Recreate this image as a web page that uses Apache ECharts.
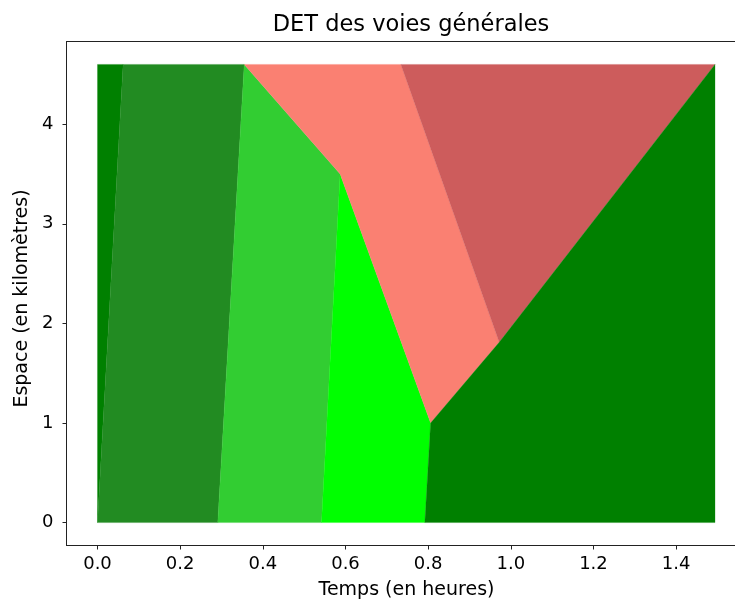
<!DOCTYPE html>
<html>
<head>
<meta charset="utf-8">
<title>DET des voies générales</title>
<script src="https://cdn.jsdelivr.net/npm/echarts@6/dist/echarts.min.js"></script>
<style>
  html, body { margin: 0; padding: 0; background: #fff; overflow: hidden; }
  #chart { width: 735px; height: 605px; }
</style>
</head>
<body>
<div id="chart"></div>
<script>
// Time-space regions: each vertex is [time (h), space (km)]
const zoneStart      = [[0, 0], [0, 4.6], [0.062, 4.6]];
const zoneFlowA      = [[0, 0], [0.062, 4.6], [0.355, 4.6], [0.291, 0]];
const zoneFlowB      = [[0.291, 0], [0.355, 4.6], [0.587, 3.5], [0.542, 0]];
const zoneFlowC      = [[0.542, 0], [0.587, 3.5], [0.806, 1.0], [0.792, 0]];
const zoneCongestion = [[0.355, 4.6], [0.734, 4.6], [0.972, 1.81], [0.806, 1.0], [0.587, 3.5]];
const zoneJam        = [[0.734, 4.6], [1.494, 4.6], [0.972, 1.81]];
const zoneRecovery   = [[0.792, 0], [0.806, 1.0], [0.972, 1.81], [1.494, 4.6], [1.494, 0]];

const zones = [zoneStart, zoneFlowA, zoneFlowB, zoneFlowC, zoneCongestion, zoneJam, zoneRecovery];
const zoneColors = ['#008000', '#228B22', '#32CD32', '#00FF00', '#FA8072', '#CD5C5C', '#008000'];

const xTicks = [0, 0.2, 0.4, 0.6, 0.8, 1.0, 1.2, 1.4];
const yTicks = [0, 1, 2, 3, 4];

// visible time window (the frame's right side runs past the page edge)
const xMin = -0.075;
const xMax = 1.5436;

const font = 'DejaVu Sans';
const spine = { show: true, onZero: false, lineStyle: { color: '#222', width: 1 } };

const chart = echarts.init(document.getElementById('chart'), null, { renderer: 'canvas' });

const series = zones.map((pts, i) => ({
  type: 'custom',
  data: pts,
  encode: { x: 0, y: 1 },
  silent: true,
  renderItem: (params, api) => {
    if (params.dataIndex !== 0) return null;
    const points = pts.map(p => api.coord(p));
    return {
      type: 'polygon',
      shape: { points },
      style: { fill: zoneColors[i], stroke: zoneColors[i], lineWidth: 0.3 }
    };
  }
}));

chart.setOption({
  animation: false,
  backgroundColor: '#fff',
  title: {
    text: 'DET des voies générales',
    left: 406,
    textAlign: 'center',
    top: 9,
    textStyle: { fontFamily: font, fontSize: 22.5, fontWeight: 'normal', color: '#000' }
  },
  grid: {
    left: 66.5, top: 41.5, width: 669, height: 504,
    outerBoundsMode: 'none',
    containLabel: false,
    show: false
  },
  xAxis: [{
    type: 'value',
    min: xMin, max: xMax,
    name: 'Temps (en heures)',
    nameLocation: 'middle',
    nameGap: 35,
    nameTextStyle: { fontFamily: font, fontSize: 19, color: '#000', padding: [0, 0, 0, 11] },
    splitLine: { show: false },
    axisLine: spine,
    axisTick: { show: true, length: 4, customValues: xTicks, lineStyle: { color: '#222' } },
    axisLabel: {
      customValues: xTicks,
      margin: 10,
      fontFamily: font, fontSize: 18, color: '#000',
      formatter: v => v.toFixed(1)
    }
  }, {
    // top frame line
    type: 'value',
    position: 'top',
    min: xMin, max: xMax,
    splitLine: { show: false },
    axisLine: spine,
    axisTick: { show: false },
    axisLabel: { show: false }
  }],
  yAxis: {
    type: 'value',
    min: -0.23, max: 4.83,
    name: 'Espace (en kilomètres)',
    nameLocation: 'middle',
    nameGap: 34,
    nameTextStyle: { fontFamily: font, fontSize: 19, color: '#000', padding: [0, 10, 0, 0] },
    splitLine: { show: false },
    axisLine: spine,
    axisTick: { show: true, length: 4, customValues: yTicks, lineStyle: { color: '#222' } },
    axisLabel: {
      customValues: yTicks,
      margin: 13,
      fontFamily: font, fontSize: 18, color: '#000',
      formatter: v => String(v)
    }
  },
  series
});
</script>
</body>
</html>
